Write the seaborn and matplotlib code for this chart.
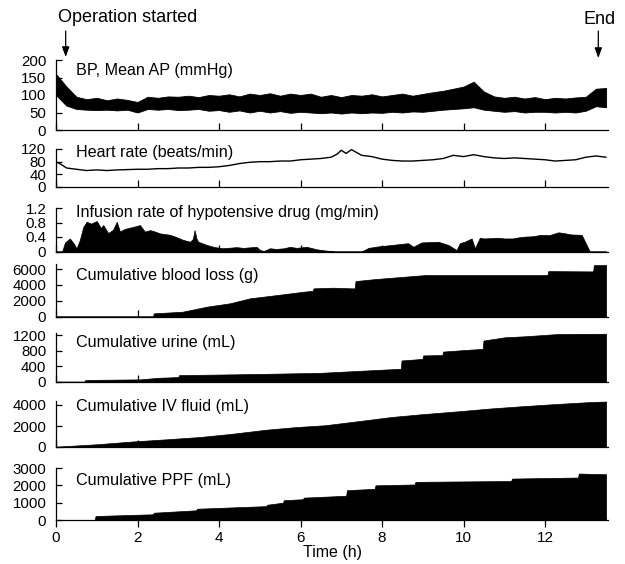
import numpy as np
import matplotlib
matplotlib.use("Agg")
import matplotlib.pyplot as plt
import seaborn as sns

# ---------------- data ----------------
bp_t = np.arange(0, 13.51, 0.25)
bp_hi = [160, 125, 95, 88, 92, 85, 90, 86, 80, 95, 92, 96, 95, 98, 94, 100, 98, 102, 96, 104,
         100, 105, 98, 104, 100, 104, 95, 100, 94, 100, 98, 102, 96, 100, 104, 98, 103, 108, 112, 118,
         124, 138, 110, 96, 92, 95, 90, 94, 88, 92, 90, 93, 95, 118, 120]
bp_lo = [100, 70, 60, 58, 57, 58, 56, 58, 50, 60, 58, 60, 57, 58, 60, 55, 57, 52, 56, 50,
         55, 50, 54, 49, 52, 50, 48, 50, 47, 50, 48, 50, 49, 52, 50, 53, 52, 55, 58, 60,
         62, 65, 58, 55, 52, 54, 50, 52, 52, 50, 52, 50, 55, 68, 65]

hr_t = [0, 0.14, 0.26, 0.5, 0.75, 1.0, 1.25, 1.5, 1.75, 2.0, 2.25, 2.5, 2.75, 3.0, 3.25, 3.5, 3.75, 4.0,
        4.25, 4.5, 4.75, 5.0, 5.25, 5.5, 5.75, 6.0, 6.25, 6.5, 6.75, 6.9, 7.0, 7.12, 7.25, 7.5, 7.75,
        8.0, 8.25, 8.5, 8.75, 9.0, 9.25, 9.5, 9.75, 10.0, 10.25, 10.5, 10.75, 11.0, 11.25, 11.5, 11.75,
        12.0, 12.25, 12.5, 12.75, 13.0, 13.25, 13.5]
hr_v = [80, 70, 60, 56, 52, 54, 52, 54, 55, 56, 56, 58, 58, 60, 60, 62, 62, 64,
        68, 74, 78, 80, 80, 82, 82, 86, 88, 90, 94, 104, 116, 106, 118, 100, 96,
        88, 84, 82, 82, 84, 86, 90, 100, 96, 102, 96, 92, 90, 92, 90, 88,
        86, 82, 84, 86, 94, 98, 94]

inf_t = [0, 0.15, 0.22, 0.34, 0.45, 0.5, 0.58, 0.67, 0.75, 0.86, 1.0, 1.1, 1.16, 1.28, 1.4, 1.49, 1.57,
         1.68, 1.78, 1.9, 2.06, 2.18, 2.31, 2.43, 2.55, 2.68, 2.8, 2.95, 3.12, 3.29, 3.36, 3.4, 3.45,
         3.49, 3.7, 3.9, 4.1, 4.43, 4.6, 4.92, 5.0, 5.09, 5.25, 5.4, 5.6, 5.74, 5.9, 6.15, 6.4, 6.6,
         6.85, 7.5, 7.67, 7.9, 8.24, 8.64, 8.77, 8.97, 9.2, 9.38, 9.63, 9.83, 9.91, 10.03, 10.2, 10.28,
         10.4, 10.5, 10.7, 10.85, 11.0, 11.2, 11.35, 11.5, 11.7, 11.9, 12.1, 12.33, 12.5, 12.65, 12.9,
         13.06, 13.1, 13.5]
inf_v = [0, 0, 0.25, 0.36, 0.2, 0.08, 0.3, 0.68, 0.82, 0.77, 0.84, 0.65, 0.73, 0.51, 0.6, 0.82, 0.55,
         0.62, 0.65, 0.68, 0.73, 0.55, 0.59, 0.55, 0.5, 0.48, 0.46, 0.4, 0.32, 0.27, 0.35, 0.59, 0.35,
         0.27, 0.18, 0.12, 0.09, 0.12, 0.1, 0.13, 0.05, 0.01, 0.09, 0.07, 0.09, 0.13, 0.1, 0.13, 0.06, 0.03,
         0, 0, 0.1, 0.14, 0.18, 0.23, 0.13, 0.25, 0.26, 0.27, 0.18, 0.04, 0.23, 0.27, 0.36, 0.09,
         0.38, 0.36, 0.37, 0.38, 0.36, 0.36, 0.39, 0.41, 0.42, 0.46, 0.45, 0.53, 0.5, 0.47, 0.46,
         0.09, 0, 0]

bl_t = [0, 2.38, 2.4, 3.1, 3.7, 4.27, 4.76, 5.42, 6.07, 6.3, 6.32, 6.8, 7.26, 7.33, 7.35, 7.83,
        9.06, 12.06, 12.08, 13.18, 13.2, 13.5]
bl_v = [0, 0, 400, 600, 1240, 1670, 2300, 2710, 3130, 3250, 3560, 3640, 3560, 3560, 4480, 4730,
        5240, 5240, 5740, 5700, 6500, 6500]

ur_t = [0, 0.7, 0.72, 2.06, 2.5, 3.0, 3.02, 4.35, 5.5, 6.5, 8.46, 8.48, 8.99, 9.01, 9.48, 9.5,
        10.04, 10.47, 10.49, 11.02, 11.5, 12.33, 13.5]
ur_v = [0, 0, 45, 60, 100, 120, 170, 190, 210, 230, 335, 550, 590, 680, 690, 780,
        820, 850, 1065, 1150, 1175, 1235, 1240]

iv_t = [0, 1.0, 1.9, 2.7, 3.53, 4.3, 5.17, 5.9, 6.6, 7.4, 8.24, 9.0, 9.87, 10.7, 11.5, 12.3, 13.15, 13.5]
iv_v = [30, 260, 530, 730, 950, 1250, 1650, 1900, 2070, 2450, 2860, 3130, 3400, 3680, 3900, 4100, 4290, 4330]

pp_t = [0, 0.95, 0.97, 2.38, 2.4, 3.44, 3.46, 5.16, 5.18, 5.57, 5.59, 6.06, 6.08, 7.12, 7.14,
        7.82, 7.84, 8.8, 8.82, 11.17, 11.19, 12.81, 12.83, 13.5]
pp_v = [0, 0, 230, 330, 420, 560, 650, 800, 880, 1000, 1140, 1200, 1290, 1400, 1720,
        1800, 2000, 2050, 2200, 2250, 2390, 2450, 2680, 2640]

titles = ["BP, Mean AP (mmHg)", "Heart rate (beats/min)",
          "Infusion rate of hypotensive drug (mg/min)", "Cumulative blood loss (g)",
          "Cumulative urine (mL)", "Cumulative IV fluid (mL)", "Cumulative PPF (mL)"]
yticks = [[0, 50, 100, 150, 200], [0, 40, 80, 120], [0, 0.4, 0.8, 1.2], [0, 2000, 4000, 6000],
          [0, 400, 800, 1200], [0, 2000, 4000], [0, 1000, 2000, 3000]]
yticklabels = [["0", "50", "100", "150", "200"], ["0", "40", "80", "120"],
               ["0", "0.4", "0.8", "1.2"], ["0", "2000", "4000", "6000"],
               ["0", "400", "800", "1200"], ["0", "2000", "4000"], ["0", "1000", "2000", "3000"]]
xticks = [0, 2, 4, 6, 8, 10, 12]

# ---------------- layout ----------------
sns.set_theme(style="ticks")
plt.rcParams["font.family"] = ["Liberation Sans", "DejaVu Sans"]
plt.rcParams["axes.linewidth"] = 0.9
plt.rcParams["text.color"] = "black"
plt.rcParams["axes.labelcolor"] = "black"
plt.rcParams["xtick.color"] = "black"
plt.rcParams["ytick.color"] = "black"
plt.rcParams["axes.edgecolor"] = "black"

W, H = 625, 564
X0, PXH, XMAX = 56, 40.75, 13.55
fig = plt.figure(figsize=(W / 100, H / 100), dpi=100)

# (top px, bottom px, ymax, title y px)
specs = [(60, 130, 200, 70), (149, 187, 120, 153), (208, 251.5, 1.2, 212),
         (264.3, 316.5, 6600, 276), (333.4, 381.7, 1250, 342), (400.8, 447, 4400, 407),
         (468, 520, 3000, 481)]

axes = []
for top, bot, ymax, ty in specs:
    ax = fig.add_axes([X0 / W, 1 - bot / H, XMAX * PXH / W, (bot - top) / H])
    ax.set_xlim(0, XMAX)
    ax.set_ylim(0, ymax)
    axes.append(ax)

ax_bp, ax_hr, ax_inf, ax_bl, ax_ur, ax_iv, ax_pp = axes

ax_bp.fill_between(bp_t, bp_lo, bp_hi, color="black", lw=0.6)
sns.lineplot(x=hr_t, y=hr_v, ax=ax_hr, color="black", lw=1.0)
for ax, t, v in [(ax_inf, inf_t, inf_v), (ax_bl, bl_t, bl_v), (ax_ur, ur_t, ur_v),
                 (ax_iv, iv_t, iv_v), (ax_pp, pp_t, pp_v)]:
    ax.fill_between(t, 0, v, color="black", lw=0.5)

for i, ax in enumerate(axes):
    sns.despine(ax=ax)
    ax.set_yticks(yticks[i])
    ax.set_yticklabels(yticklabels[i])
    ax.set_xticks(xticks)
    ax.tick_params(axis="y", direction="in", length=4, width=0.9, labelsize=10.8, pad=7,
                   colors="black")
    ax.set_ylabel("")
    ax.set_xlabel("")
    if i < len(axes) - 1:
        ax.tick_params(axis="x", direction="in", length=5, width=0.9, labelbottom=False)
    else:
        ax.tick_params(axis="x", direction="out", length=5, width=0.9, labelsize=11, pad=3,
                       colors="black")
        ax.set_xlabel("Time (h)", fontsize=11.5, labelpad=0, color="black")
    for s in ("left", "bottom"):
        ax.spines[s].set_color("black")
    fig.text(76.5 / W, 1 - specs[i][3] / H, titles[i], fontsize=11.6, ha="left", va="center",
             color="black")

# annotations
fig.text(58 / W, 1 - 18 / H, "Operation started", fontsize=13, ha="left", va="center", color="black")
fig.text(600 / W, 1 - 19 / H, "End", fontsize=13, ha="center", va="center", color="black")
arrow = dict(arrowstyle="-|>,head_length=0.6,head_width=0.22", mutation_scale=10, lw=0.9,
             color="black", shrinkA=0, shrinkB=0)
fig.add_artist(matplotlib.patches.FancyArrowPatch((65.7 / W, 1 - 31 / H), (65.7 / W, 1 - 57 / H),
               transform=fig.transFigure, **arrow))
fig.add_artist(matplotlib.patches.FancyArrowPatch((598.3 / W, 1 - 31 / H), (598.3 / W, 1 - 58 / H),
               transform=fig.transFigure, **arrow))

fig.savefig("out.png", dpi=100, facecolor="white")
